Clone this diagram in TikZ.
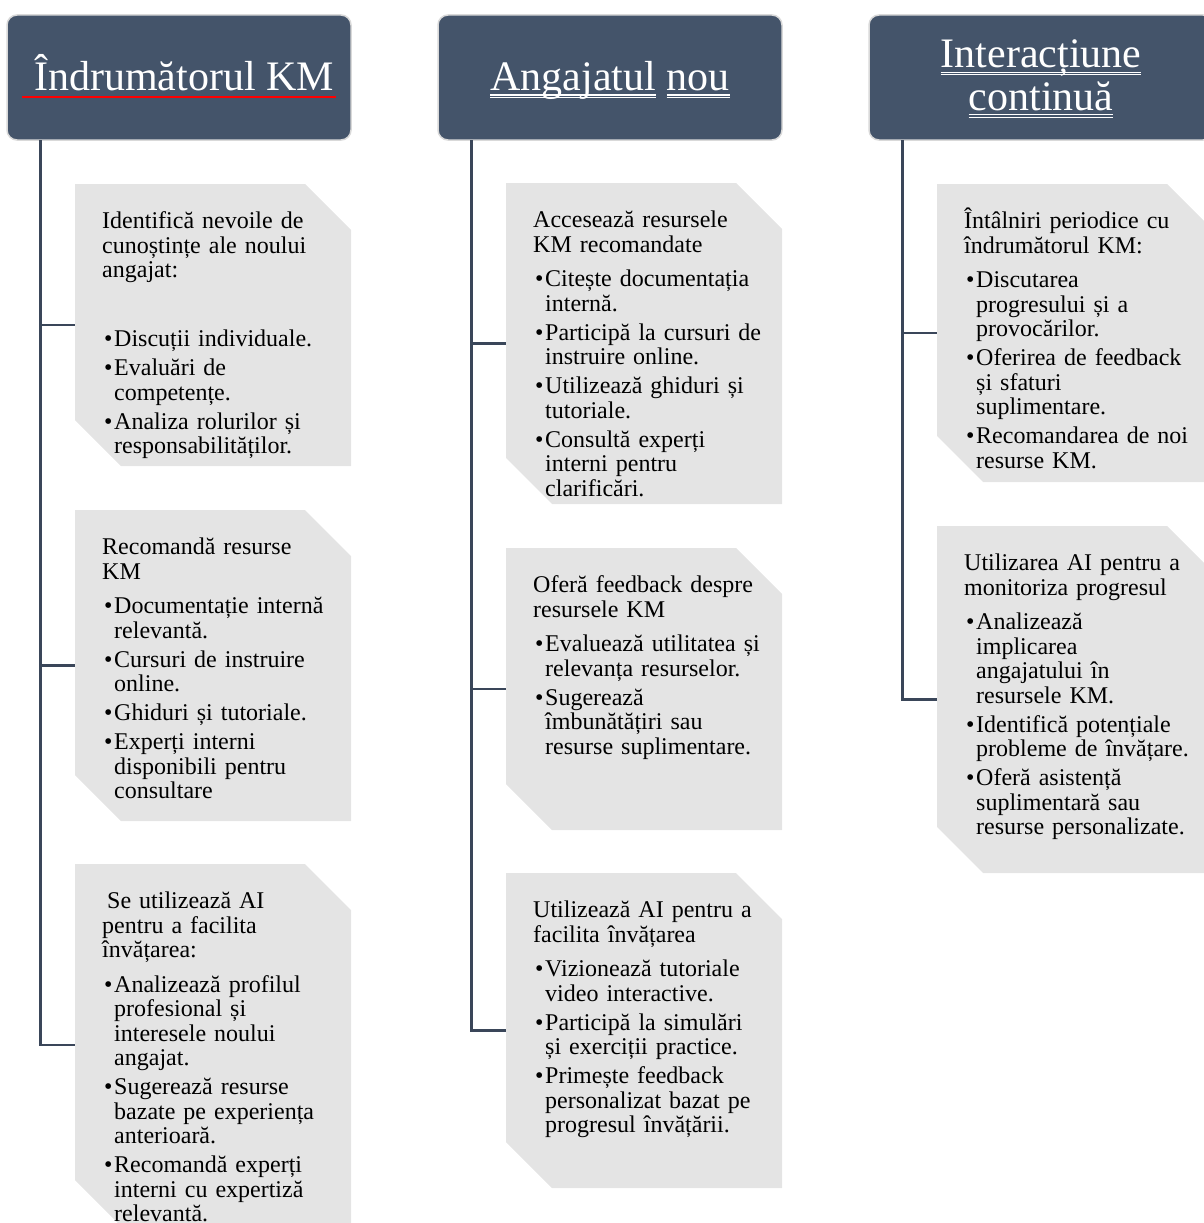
\documentclass[tikz,border=0pt]{standalone}
\usepackage{fontspec}
\setmainfont{Liberation Serif}

\definecolor{headblue}{HTML}{44546A}
\definecolor{headrim}{HTML}{D9D9D9}
\definecolor{linkcol}{HTML}{3A4659}
\definecolor{cardgray}{HTML}{E4E4E4}

% double white underline of the titles
\newlength{\dulw}
\newcommand{\dul}[1]{\settowidth{\dulw}{#1}\rlap{\rule[-5.5pt]{\dulw}{1pt}}\rlap{\rule[-8pt]{\dulw}{1pt}}#1}
% one bullet of a card
\newcommand{\bul}[1]{\par\vspace{4.5pt}\hangindent=12pt\hangafter=1\noindent\makebox[12pt][l]{\hspace{2pt}\textbullet}#1\par}

\begin{document}
\begin{tikzpicture}[x=1pt,y=-1pt,
    head/.style={draw=headrim,line width=1.5pt,fill=headblue,rounded corners=10pt,outer sep=0pt,minimum width=344pt,minimum height=125pt},
    headtxt/.style={anchor=base,text=white,inner sep=0pt,font=\fontsize{42}{44}\selectfont},
    card/.style={inner sep=0pt,outer sep=0pt,minimum width=276pt},
    body/.style={anchor=base west,text width=250pt,align=left,inner sep=0pt,font=\fontsize{24}{24.5}\selectfont},
    link/.style={draw=linkcol,line width=2.5pt}]
  \useasboundingbox (0,0) rectangle (1204,1223);
  \clip (0,0) rectangle (1204,1223);

  % titles
  \node[head] (hind) at (179,77.5) {};
  \node[head] (hang) at (610,77.5) {};
  \node[head] (hint) at (1041,77.5) {};
  \node[headtxt] (tind) at (184,90) {Îndrumătorul KM};
  \draw[red,line width=2pt] ([shift={(15pt,-82pt)}]hind.north west) -- ([shift={(-15pt,-82pt)}]hind.north east);
  \node[headtxt] (tang) at (610,90) {\dul{Angajatul} \dul{nou}};
  \node[headtxt] (tint1) at (1041,67) {\dul{Interacțiune}};
  \node[headtxt] (tint2) at (1041,110) {\dul{continuă}};

  % cards
  \node[card,minimum height=282pt] (ind1) at (213,325) {};
  \node[card,minimum height=311pt] (ind2) at (213,665.5) {};
  \node[card,minimum height=362pt] (ind3) at (213,1045) {};
  \node[card,minimum height=321pt] (ang1) at (644,343.5) {};
  \node[card,minimum height=282pt] (ang2) at (644,689) {};
  \node[card,minimum height=315pt] (ang3) at (644,1030.5) {};
  \node[card,minimum height=298pt] (int1) at (1075,333) {};
  \node[card,minimum height=347pt] (int2) at (1075,699.5) {};
  \foreach \b in {ind1,ind2,ind3,ang1,ang2,ang3,int1,int2}
    \fill[cardgray] (\b.north west) -- ([xshift=-46pt]\b.north east) -- ([yshift=-46pt]\b.north east)
      -- (\b.south east) -- ([xshift=46pt]\b.south west) -- ([yshift=46pt]\b.south west) -- cycle;

  % spines
  \coordinate (spind) at ([xshift=33.5pt]hind.south west);
  \coordinate (spang) at ([xshift=33.5pt]hang.south west);
  \coordinate (spint) at ([xshift=33.5pt]hint.south west);
  \draw[link] (spind) |- (ind3.west);
  \draw[link] (spind |- ind1.west) -- (ind1.west);
  \draw[link] (spind |- ind2.west) -- (ind2.west);
  \draw[link] (spang) |- (ang3.west);
  \draw[link] (spang |- ang1.west) -- (ang1.west);
  \draw[link] (spang |- ang2.west) -- (ang2.west);
  \draw[link] (spint) |- (int2.west);
  \draw[link] (spint |- int1.west) -- (int1.west);

  % texts
  \node[body] (tind1) at ([shift={(27pt,-44.5pt)}]ind1.north west) {Identifică nevoile de\newline cunoștințe ale noului\newline angajat:\par\vspace{40pt}%
    \bul{Discuții individuale.}\bul{Evaluări de\newline competențe.}\bul{Analiza rolurilor și\newline responsabilităților.}};
  \node[body] (tind2) at ([shift={(27pt,-44.5pt)}]ind2.north west) {Recomandă resurse\newline KM\par\vspace{5.5pt}%
    \bul{Documentație internă\newline relevantă.}\bul{Cursuri de instruire\newline online.}\bul{Ghiduri și tutoriale.}\bul{Experți interni\newline disponibili pentru\newline consultare}};
  \node[body] (tind3) at ([shift={(27pt,-44.5pt)}]ind3.north west) {\hspace*{5pt}Se utilizează AI\newline pentru a facilita\newline învățarea:\par\vspace{5.5pt}%
    \bul{Analizează profilul\newline profesional și\newline interesele noului\newline angajat.}\bul{Sugerează resurse\newline bazate pe experiența\newline anterioară.}\bul{Recomandă experți\newline interni cu expertiză\newline relevantă.}};
  \node[body] (tang1) at ([shift={(27pt,-44.5pt)}]ang1.north west) {Accesează resursele\newline KM recomandate\par\vspace{5.5pt}%
    \bul{Citește documentația\newline internă.}\bul{Participă la cursuri de\newline instruire online.}\bul{Utilizează ghiduri și\newline tutoriale.}\bul{Consultă experți\newline interni pentru\newline clarificări.}};
  \node[body] (tang2) at ([shift={(27pt,-44.5pt)}]ang2.north west) {Oferă feedback despre\newline resursele KM\par\vspace{5.5pt}%
    \bul{Evaluează utilitatea și\newline relevanța resurselor.}\bul{Sugerează\newline îmbunătățiri sau\newline resurse suplimentare.}};
  \node[body] (tang3) at ([shift={(27pt,-44.5pt)}]ang3.north west) {Utilizează AI pentru a\newline facilita învățarea\par\vspace{5.5pt}%
    \bul{Vizionează tutoriale\newline video interactive.}\bul{Participă la simulări\newline și exerciții practice.}\bul{Primește feedback\newline personalizat bazat pe\newline progresul învățării.}};
  \node[body] (tint1) at ([shift={(27pt,-44.5pt)}]int1.north west) {Întâlniri periodice cu\newline îndrumătorul KM:\par\vspace{5.5pt}%
    \bul{Discutarea\newline progresului și a\newline provocărilor.}\bul{Oferirea de feedback\newline și sfaturi\newline suplimentare.}\bul{Recomandarea de noi\newline resurse KM.}};
  \node[body] (tint2) at ([shift={(27pt,-44.5pt)}]int2.north west) {Utilizarea AI pentru a\newline monitoriza progresul\par\vspace{5.5pt}%
    \bul{Analizează\newline implicarea\newline angajatului în\newline resursele KM.}\bul{Identifică potențiale\newline probleme de învățare.}\bul{Oferă asistență\newline suplimentară sau\newline resurse personalizate.}};
\end{tikzpicture}
\end{document}
